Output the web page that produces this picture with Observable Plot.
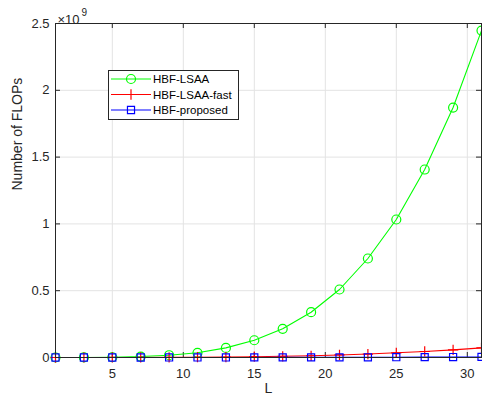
<!DOCTYPE html>
<html><head><meta charset="utf-8">
<script src="https://cdn.jsdelivr.net/npm/d3@7"></script>
<script src="https://cdn.jsdelivr.net/npm/@observablehq/plot@0.6"></script>
<style>
body{margin:0;background:#fff;}
#wrap{position:relative;width:482px;height:396px;}
#legend{position:absolute;left:0;top:0;}
</style>
</head><body><div id="wrap"></div>
<script>
const L = [1,3,5,7,9,11,13,15,17,19,21,23,25,27,29,31];
const lsaa = [0.0000, 0.0003, 0.002, 0.007, 0.017, 0.035, 0.072, 0.129, 0.215, 0.339, 0.509, 0.741, 1.033, 1.407, 1.871, 2.447];
const lsaaFast = [0, 0.00005, 0.0002, 0.0005, 0.001, 0.002, 0.0035, 0.006, 0.009, 0.013, 0.019, 0.026, 0.035, 0.045, 0.057, 0.072];
const proposed = [0, 0, 0.00001, 0.00003, 0.0001, 0.0002, 0.0003, 0.0005, 0.0007, 0.001, 0.0013, 0.0017, 0.0022, 0.0028, 0.0035, 0.0043];
const seriesNames = ["HBF-LSAA", "HBF-LSAA-fast", "HBF-proposed"];
const seriesColors = ["#00ff00", "#ff0000", "#0000ff"];
const seriesSymbols = ["circle", "plus", "square2"];
const seriesR = [4.5, 3.4, 4.5];
const xTicks = [5,10,15,20,25,30];
const yTicks = [0,0.5,1,1.5,2,2.5];
const scale = 1e9;

const allSeries = [lsaa, lsaaFast, proposed];
const rows = [];
allSeries.forEach((vals, s) => vals.forEach((v, i) => rows.push({L: L[i], v: v*scale, s})));

const W = 482, H = 396, mL = 55, mR = 1, mT = 23, mB = 39;
const fw = W - mL - mR, fh = H - mT - mB;
const axisColor = "#262626";

const marks = [
  Plot.gridX(xTicks, {stroke: "#e3e3e3", strokeOpacity: 1}),
  Plot.gridY(yTicks.map(d => d*scale), {stroke: "#e3e3e3", strokeOpacity: 1}),
  Plot.ruleX(xTicks, {x: d => d, insetTop: fh - 5, stroke: axisColor}),
  Plot.ruleX(xTicks, {x: d => d, insetBottom: fh - 5, stroke: axisColor}),
  Plot.ruleY(yTicks.map(d => d*scale), {y: d => d, insetRight: fw - 5, stroke: axisColor}),
  Plot.ruleY(yTicks.map(d => d*scale), {y: d => d, insetLeft: fw - 5, stroke: axisColor}),
  Plot.axisX(xTicks, {tickSize: 0, tickPadding: 11, fontSize: 13, color: axisColor, label: null}),
  Plot.axisY(yTicks.map(d => d*scale), {tickSize: 0, tickPadding: 6, fontSize: 13, color: axisColor, label: null, tickFormat: d => String(d/scale)}),
];
seriesNames.forEach((n, s) => {
  const data = rows.filter(r => r.s === s);
  marks.push(Plot.line(data, {x: "L", y: "v", stroke: seriesColors[s], strokeWidth: 1.1}));
  marks.push(Plot.dot(data, {x: "L", y: "v", stroke: seriesColors[s], symbol: seriesSymbols[s], r: seriesR[s], fill: "none", strokeWidth: 1.2}));
});
marks.push(
  Plot.frame({stroke: axisColor, strokeWidth: 1}),
  Plot.text(["Number of FLOPs"], {frameAnchor: "left", dx: -38, rotate: -90, fontSize: 14, fill: axisColor}),
  Plot.text(["L"], {frameAnchor: "bottom", dy: 35, fontSize: 14, fill: axisColor}),
  Plot.text(["×10"], {frameAnchor: "top-left", dx: 2, dy: -9, textAnchor: "start", fontSize: 13, fill: axisColor}),
  Plot.text(["9"], {frameAnchor: "top-left", dx: 26, dy: -15, textAnchor: "start", fontSize: 10, fill: axisColor})
);

const chart = Plot.plot({
  width: W, height: H,
  marginLeft: mL, marginRight: mR, marginTop: mT, marginBottom: mB,
  x: {domain: [1, 31]},
  y: {domain: [0, 2.5*scale]},
  style: {fontFamily: "'Liberation Sans', Arial, sans-serif", fontSize: "13px", color: axisColor, background: "#fff", overflow: "visible"},
  marks
});
const wrap = document.getElementById("wrap");
wrap.appendChild(chart);

// legend
const lg = d3.select(wrap).append("svg").attr("id", "legend").attr("width", W).attr("height", H)
  .style("font-family", "'Liberation Sans', Arial, sans-serif");
lg.append("rect").attr("x", 108.5).attr("y", 70.5).attr("width", 130).attr("height", 49)
  .attr("fill", "#fff").attr("stroke", axisColor);
const symMap = {circle: d3.symbolCircle, plus: d3.symbolPlus, square2: d3.symbolSquare2};
seriesNames.forEach((n, s) => {
  const y = 79 + s*15.5;
  lg.append("line").attr("x1", 111).attr("x2", 151).attr("y1", y).attr("y2", y)
    .attr("stroke", seriesColors[s]).attr("stroke-width", 1.1);
  lg.append("path").attr("d", d3.symbol(symMap[seriesSymbols[s]], Math.PI*seriesR[s]*seriesR[s])())
    .attr("transform", `translate(131,${y})`).attr("fill", "none").attr("stroke", seriesColors[s]).attr("stroke-width", 1.2);
  lg.append("text").attr("x", 153).attr("y", y).attr("dy", "0.35em").attr("font-size", 11.5)
    .attr("fill", "#000").text(n);
});
</script></body></html>
